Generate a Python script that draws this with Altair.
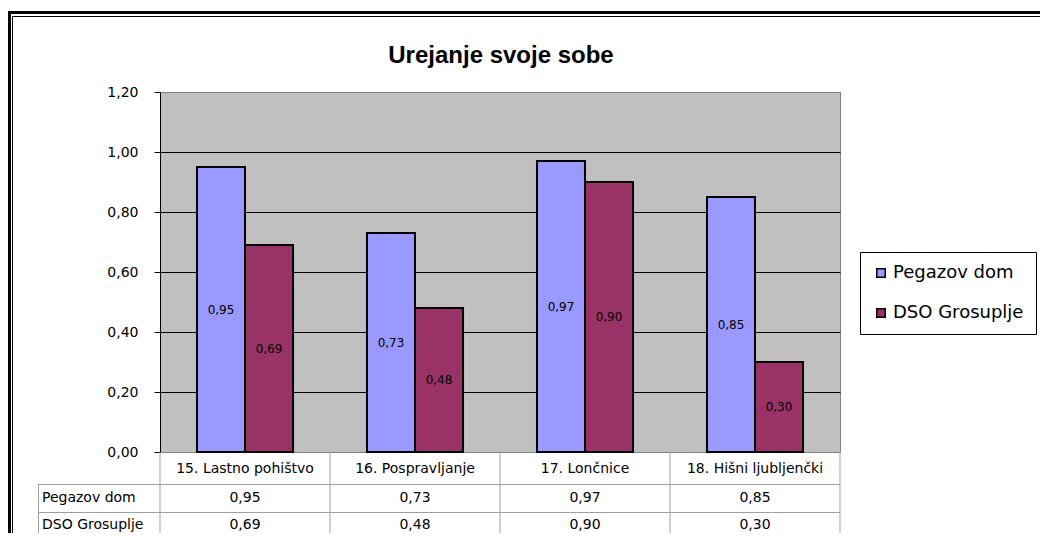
import altair as alt
import pandas as pd

# ---- data ----
title_text = "Urejanje svoje sobe"
categories = ["15. Lastno pohištvo", "16. Pospravljanje", "17. Lončnice", "18. Hišni ljubljenčki"]
series = ["Pegazov dom", "DSO Grosuplje"]
pegazov = [0.95, 0.73, 0.97, 0.85]
dso = [0.69, 0.48, 0.90, 0.30]
colors = ["#9999FF", "#993366"]
y_ticks = [0.0, 0.2, 0.4, 0.6, 0.8, 1.0, 1.2]

rows = []
for i, c in enumerate(categories):
    rows.append({"category": c, "series": series[0], "value": pegazov[i]})
    rows.append({"category": c, "series": series[1], "value": dso[i]})
df = pd.DataFrame(rows)
cat_df = pd.DataFrame({"category": categories})
one = pd.DataFrame({"k": [0]})

W, H = 680, 360
FONT = "DejaVu Sans"
fmt = "replace(format(datum.value, '.2f'), '.', ',')"

xs = alt.Scale(paddingInner=0, paddingOuter=0)
x_enc = alt.X("category:N", sort=categories, scale=xs, axis=None)

base = alt.Chart(df).transform_calculate(label=fmt, mid="datum.value / 2")

bars = base.mark_bar(stroke="black", strokeWidth=2).encode(
    x=x_enc,
    xOffset=alt.XOffset("series:N", sort=series,
                        scale=alt.Scale(paddingOuter=0.77, paddingInner=0)),
    y=alt.Y("value:Q",
            scale=alt.Scale(domain=[0, 1.2], nice=False, zero=True),
            axis=alt.Axis(values=y_ticks, title=None, labelExpr=fmt,
                          grid=True,
                          gridColor={"condition": {"test": "datum.value <= 0 || datum.value >= 1.2",
                                                   "value": "#808080"},
                                     "value": "#000000"},
                          gridOpacity=1,
                          domainColor="black", tickColor="black", tickSize=6,
                          labelPadding=16, labelFont=FONT, labelFontSize=14,
                          labelColor="black")),
    color=alt.Color("series:N", sort=series,
                    scale=alt.Scale(domain=series, range=colors),
                    legend=alt.Legend(title=None, orient="none", legendX=700, legendY=160,
                                      direction="vertical", symbolType="square",
                                      symbolSize=72, symbolStrokeColor="black",
                                      symbolStrokeWidth=1.5, labelFont=FONT,
                                      labelFontSize=18, labelColor="black",
                                      strokeColor="#000000", fillColor="white",
                                      padding=12, rowPadding=22, labelOffset=3)),
)

bar_labels = base.mark_text(font=FONT, fontSize=12, color="black").encode(
    x=x_enc,
    xOffset=alt.XOffset("series:N", sort=series),
    y=alt.Y("mid:Q"),
    text="label:N",
)

title = alt.Chart(one).mark_text(font="Liberation Sans", fontSize=24, fontWeight="bold",
                                 color="black", baseline="alphabetic").encode(
    x=alt.value(W / 2 + 1), y=alt.value(-29), text=alt.value(title_text))

# ---- data table below the plot ----
grid_col = "#a0a0a0"
table_row_y = [406, 433]

header = alt.Chart(cat_df).mark_text(font=FONT, fontSize=14, color="black").encode(
    x=alt.X("category:N", sort=categories, bandPosition=0.5, scale=xs, axis=None),
    y=alt.value(377),
    text="category:N",
)

layers = [bars, bar_labels, header, title]
for s, ry in zip(series, table_row_y):
    vals = base.transform_filter(alt.datum.series == s).mark_text(
        font=FONT, fontSize=14, color="black").encode(
        x=alt.X("category:N", sort=categories, bandPosition=0.5, scale=xs, axis=None),
        y=alt.value(ry),
        text="label:N",
    )
    rowlab = alt.Chart(pd.DataFrame({"series": [s]})).mark_text(
        font=FONT, fontSize=14, color="black", align="left").encode(
        x=alt.value(-118), y=alt.value(ry), text="series:N")
    layers += [vals, rowlab]

vlines = alt.Chart(cat_df).mark_rule(color=grid_col, strokeWidth=1).encode(
    x=alt.X("category:N", sort=categories, bandPosition=0, scale=xs, axis=None),
    y=alt.value(H), y2=alt.value(470),
)
right_line = alt.Chart(one).mark_rule(color=grid_col, strokeWidth=1).encode(
    x=alt.value(W), y=alt.value(H), y2=alt.value(470))
left_line = alt.Chart(one).mark_rule(color=grid_col, strokeWidth=1).encode(
    x=alt.value(-121.5), y=alt.value(392), y2=alt.value(470))
h1 = alt.Chart(one).mark_rule(color=grid_col, strokeWidth=1).encode(
    x=alt.value(-122), x2=alt.value(W), y=alt.value(392.5))
h2 = alt.Chart(one).mark_rule(color=grid_col, strokeWidth=1).encode(
    x=alt.value(-122), x2=alt.value(W), y=alt.value(420.5))

outer = alt.Chart(one).mark_rect(filled=False, stroke="black", strokeWidth=3).encode(
    x=alt.value(-150.5), x2=alt.value(1000), y=alt.value(-79.5), y2=alt.value(600))
inner = alt.Chart(one).mark_rect(filled=False, stroke="black", strokeWidth=1).encode(
    x=alt.value(-147.5), x2=alt.value(1000), y=alt.value(-75.5), y2=alt.value(600))

layers += [vlines, right_line, left_line, h1, h2, outer, inner]

chart = alt.layer(*layers).properties(
    width=W, height=H,
    padding={"left": 152, "top": 84, "right": 200, "bottom": 81},
    autosize=alt.AutoSizeParams(type="none"),
    background="white",
).configure_view(fill="#C0C0C0", stroke="#808080", strokeWidth=1)

chart.save("out.html", embed_options={"renderer": "svg", "actions": False})
